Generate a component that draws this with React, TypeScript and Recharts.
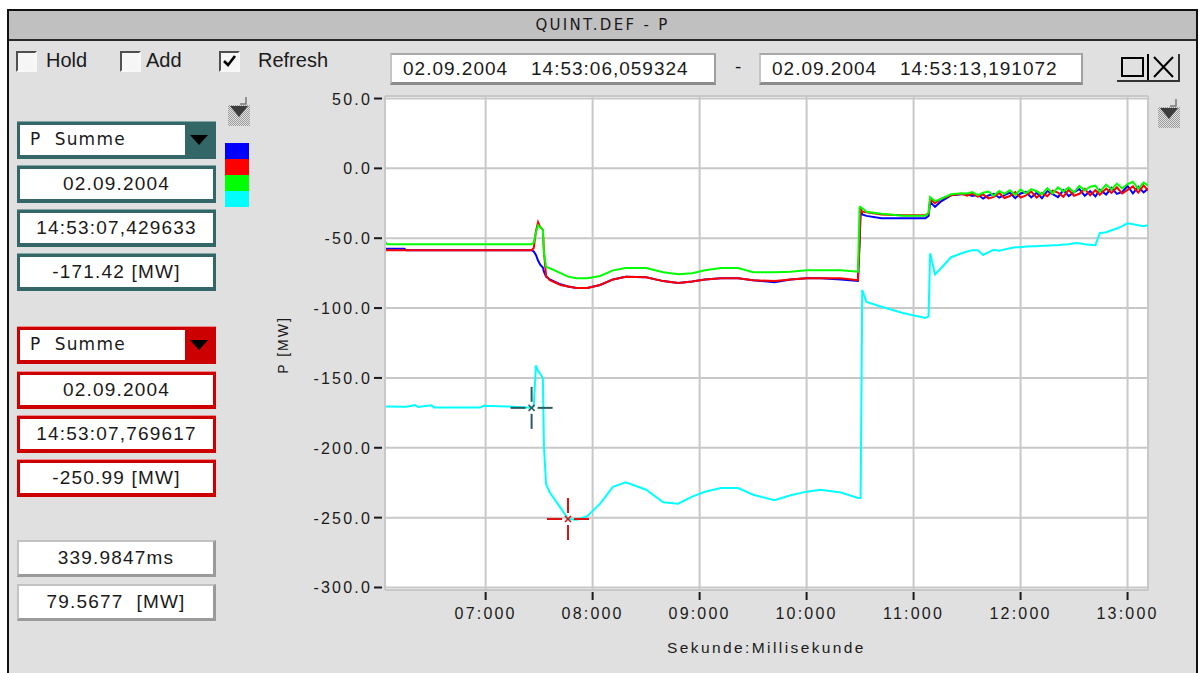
import React from 'react';
import { LineChart, Line, XAxis, YAxis, CartesianGrid, ReferenceDot } from 'recharts';

// Zeitpunkte in Sekunden nach 14:53:00
const seconds = [
  6.0594, 6.08, 6.24, 6.26, 6.34, 6.37, 6.49, 6.52, 6.95, 6.98,
  7.2, 7.43, 7.45, 7.47, 7.49, 7.51, 7.535, 7.545, 7.565, 7.6,
  7.7, 7.77, 7.85, 7.95, 8.07, 8.19, 8.31, 8.5, 8.66, 8.8,
  8.93, 9.05, 9.2, 9.36, 9.5, 9.7, 9.85, 10.0, 10.13, 10.32,
  10.48, 10.495, 10.505, 10.52, 10.56, 10.7, 10.9, 11.11, 11.14, 11.155,
  11.2, 11.25, 11.35, 11.45, 11.5, 11.55, 11.6, 11.65, 11.7, 11.75,
  11.8, 11.85, 11.9, 11.95, 12.0, 12.05, 12.1, 12.15, 12.2, 12.25,
  12.3, 12.35, 12.4, 12.45, 12.5, 12.55, 12.6, 12.65, 12.7, 12.74,
  12.8, 12.85, 12.9, 12.95, 13.0, 13.05, 13.1, 13.15, 13.191,
];

// P Summe in MW, je Kanal
const pBlue = [
  -57.5, -57.5, -57.5, -58.6, -58.6, -58.6, -58.6, -58.6, -58.6, -58.6,
  -58.6, -58.6, -59.5, -62, -66, -69, -71, -74, -77.5, -79.5,
  -83, -84.5, -85.7, -85.7, -83.5, -79.5, -77.6, -78, -80.7, -82,
  -81, -79.5, -78.6, -78.6, -80, -81.5, -79.5, -78.6, -78.6, -79.5,
  -80.5, -54, -30, -33, -34, -35.7, -35.7, -35.7, -34, -24,
  -27.6, -24, -19.3, -18.6, -18.6, -19.8, -18.9, -21.6, -19.4, -18.2,
  -21.0, -19.2, -17.4, -21.3, -18.0, -16.9, -20.8, -17.5, -21.4, -16.2,
  -18.4, -20.6, -15.6, -19.9, -17.0, -14.8, -19.6, -16.3, -20.1, -15.2,
  -18.7, -13.9, -18.3, -16.8, -12.6, -17.9, -13.2, -17.2, -14.5,
];

const pRed = [
  -58.6, -58.6, -58.6, -58.6, -58.6, -58.6, -58.6, -58.6, -58.6, -58.6,
  -58.6, -58.6, -57, -45, -38.5, -42, -44, -60, -77, -80,
  -83.5, -84.5, -85.7, -85.7, -83.5, -79.5, -77.6, -78, -80.7, -82,
  -81, -79.5, -78.6, -78.6, -80, -80.7, -79.5, -78.6, -78.6, -78.6,
  -80, -52, -29, -31, -31.5, -33, -33.6, -33.6, -32, -22,
  -25, -22, -19.3, -18.2, -19.5, -18.1, -20.3, -18.6, -21.5, -20.4,
  -17.6, -21.2, -19.8, -17.0, -20.9, -19.4, -16.6, -21.0, -17.8, -19.9,
  -15.9, -17.4, -20.3, -15.3, -19.6, -18.2, -14.7, -19.3, -15.6, -18.9,
  -14.4, -17.6, -13.5, -18.0, -15.4, -12.9, -17.4, -12.2, -15.8,
];

const pGreen = [
  -52.6, -54.3, -54.3, -54.3, -54.3, -54.3, -54.3, -54.3, -54.3, -54.3,
  -54.3, -54.3, -53, -46, -40.7, -42, -44, -60, -70.5, -71.5,
  -75, -77.5, -78.6, -78.6, -77, -73, -71.4, -71.4, -74.3, -75.7,
  -75, -72.9, -71.4, -71.4, -74.3, -74.3, -74, -72.9, -72.9, -72.9,
  -74, -28, -27.6, -28.5, -31, -32.5, -34, -34, -32, -20.5,
  -23.5, -22, -18.6, -17.9, -18.0, -17.0, -19.1, -17.4, -16.6, -19.6,
  -16.2, -18.3, -15.6, -18.9, -15.1, -17.8, -14.9, -16.4, -18.6, -14.2,
  -17.8, -13.6, -16.5, -13.8, -17.2, -12.6, -15.9, -13.1, -12.4, -16.8,
  -11.6, -15.1, -10.9, -14.4, -11.2, -9.6, -14.6, -10.1, -12.3,
];

const pCyan = [
  -170.5, -170.5, -170.6, -170.6, -169.4, -170.8, -169.6, -171.2, -171.2, -169.9,
  -170.4, -171.4, -170, -141, -145, -147, -150, -199, -226, -232,
  -243, -251, -251.5, -249, -240, -228, -224.8, -230, -239, -240,
  -235, -231.5, -228.8, -228.8, -233.6, -237.5, -234, -231.4, -230, -232,
  -236, -236, -236, -87, -95.7, -99, -103.5, -107, -106, -60.7,
  -76, -72, -63.6, -60.8, -59.5, -58.6, -58.6, -62, -60, -58.3,
  -59, -58, -57.2, -56.4, -56.4, -56, -55.7, -55.7, -55.4, -55.4,
  -55, -55, -54.5, -54.3, -53.6, -53.6, -54.3, -54.6, -55, -46.4,
  -45.7, -44.3, -43, -41.4, -39.3, -40, -40.7, -41.4, -40.7,
];

const yTicks = [50, 0, -50, -100, -150, -200, -250, -300];
const xTicks = [7, 8, 9, 10, 11, 12, 13];

const rangeStart = 6.059324;
const rangeEnd = 13.191072;

const cursor1 = { t: 7.429633, p: -171.42 };
const cursor2 = { t: 7.769617, p: -250.99 };

const data = seconds.map((t, i) => ({
  t,
  blue: pBlue[i],
  red: pRed[i],
  green: pGreen[i],
  cyan: pCyan[i],
}));

const SANS = '"Liberation Sans", Arial, sans-serif';
const VERD = '"DejaVu Sans", Verdana, sans-serif';
const TEAL = '#336666';
const RED = '#cc0000';
const INK = '#1a1a1a';

const fmtSec = (v: number) => {
  const s = Math.floor(v);
  const ms = Math.round((v - s) * 1000);
  return `${String(s).padStart(2, '0')}:${String(ms).padStart(3, '0')}`;
};

const axisText = { fontFamily: SANS, fontSize: 16, letterSpacing: 2.2, fill: INK };

function XTick({ x, y, payload }: any) {
  return (
    <g>
      <line x1={x} x2={x} y1={y + 2} y2={y + 10} stroke={INK} strokeWidth={2} />
      <text x={x} y={y + 29} textAnchor="middle" style={axisText}>
        {fmtSec(payload.value)}
      </text>
    </g>
  );
}

function YTick({ x, y, payload }: any) {
  return (
    <g>
      <text x={x - 13} y={y + 6} textAnchor="end" style={axisText}>
        {payload.value.toFixed(1)}
      </text>
      <line x1={x - 11} x2={x - 3} y1={y} y2={y} stroke={INK} strokeWidth={2} />
    </g>
  );
}

function XTitle({ viewBox }: any) {
  return (
    <text x={viewBox.x + viewBox.width / 2} y={viewBox.y + 63} textAnchor="middle" style={{ ...axisText, fontSize: 15.5, letterSpacing: 2.4 }}>
      Sekunde:Millisekunde
    </text>
  );
}

function YTitle({ viewBox }: any) {
  const x = viewBox.x + 23;
  const y = viewBox.y + viewBox.height / 2 + 2;
  return (
    <text x={x} y={y} dy={5} transform={`rotate(-90 ${x} ${y})`} textAnchor="middle" style={{ ...axisText, fontSize: 14, letterSpacing: 2 }}>
      P [MW]
    </text>
  );
}

// Fadenkreuz der Messcursor
function Crosshair({ cx, cy, color }: any) {
  const a = 6;
  const b = 21;
  const s = 3;
  return (
    <g stroke={color} strokeWidth={2}>
      <line x1={cx - b} x2={cx - a} y1={cy} y2={cy} />
      <line x1={cx + a} x2={cx + b} y1={cy} y2={cy} />
      <line x1={cx} x2={cx} y1={cy - b} y2={cy - a} />
      <line x1={cx} x2={cx} y1={cy + a} y2={cy + b} />
      <line x1={cx - s} x2={cx + s} y1={cy - s} y2={cy + s} strokeWidth={1.5} />
      <line x1={cx - s} x2={cx + s} y1={cy + s} y2={cy - s} strokeWidth={1.5} />
    </g>
  );
}

function Check({ left, textLeft, label, checked }: any) {
  return (
    <>
      <div
        style={{
          position: 'absolute', left, top: 51, width: 21, height: 21, boxSizing: 'border-box',
          borderTop: '2px solid #505050', borderLeft: '2px solid #505050',
          borderRight: '2px solid #f8f8f8', borderBottom: '2px solid #f8f8f8', background: '#f6f6f6',
        }}
      >
        {checked && (
          <svg width={17} height={17} style={{ display: 'block' }}>
            <polyline points="3,8 7,12 14,3" fill="none" stroke="#000" strokeWidth={2.6} />
          </svg>
        )}
      </div>
      <div style={{ position: 'absolute', left: textLeft, top: 47, fontSize: 20, lineHeight: '26px', color: INK }}>
        {label}
      </div>
    </>
  );
}

function DateBox({ left, width, time }: any) {
  return (
    <div
      style={{
        position: 'absolute', left, top: 53, width, height: 32, boxSizing: 'border-box', background: '#fff',
        borderTop: '2px solid #a8a8a8', borderLeft: '2px solid #c4c4c4',
        borderRight: '2px solid #a0a0a0', borderBottom: '3px solid #8c8c8c',
        fontSize: 19, letterSpacing: 1, color: INK,
      }}
    >
      <span style={{ position: 'absolute', left: 11, top: 3 }}>02.09.2004</span>
      <span style={{ position: 'absolute', left: 139, top: 3 }}>{time}</span>
    </div>
  );
}

function Field({ top, color, light, children }: any) {
  return (
    <div
      style={{
        position: 'absolute', left: 17, top, width: 199, height: 37, boxSizing: 'border-box', background: '#fff',
        borderStyle: 'solid', borderWidth: '3px 3px 4px 3px', borderColor: color,
        boxShadow: `0 -1px 0 ${light}`,
        display: 'flex', alignItems: 'center', justifyContent: 'center',
        fontSize: 19, letterSpacing: 1.2, color: INK, whiteSpace: 'pre',
      }}
    >
      {children}
    </div>
  );
}

function Dropdown({ top, color, light }: any) {
  return (
    <div
      style={{
        position: 'absolute', left: 17, top, width: 199, height: 37, boxSizing: 'border-box', background: '#fff',
        borderStyle: 'solid', borderWidth: '3px 3px 4px 3px', borderColor: color,
        boxShadow: `0 -1px 0 ${light}`,
      }}
    >
      <div style={{ position: 'absolute', left: 10, top: 4, fontFamily: VERD, fontSize: 17, letterSpacing: 1.2, whiteSpace: 'pre', color: INK }}>
        P  Summe
      </div>
      <div style={{ position: 'absolute', right: 0, top: 0, width: 28, height: 30, background: color }}>
        <svg width={28} height={30} style={{ display: 'block' }}>
          <path d="M5,10 L23,10 L14,20 Z" fill="#000" />
        </svg>
      </div>
    </div>
  );
}

function GrayField({ top, children }: any) {
  return (
    <div
      style={{
        position: 'absolute', left: 17, top, width: 199, height: 37, boxSizing: 'border-box', background: '#fff',
        borderTop: '2px solid #c2c2c2', borderLeft: '2px solid #c2c2c2',
        borderRight: '3px solid #9a9a9a', borderBottom: '3px solid #9a9a9a',
        display: 'flex', alignItems: 'center', justifyContent: 'center',
        fontSize: 19, letterSpacing: 1.2, color: INK, whiteSpace: 'pre',
      }}
    >
      {children}
    </div>
  );
}

function ScaleIcon({ left, top, id }: any) {
  return (
    <svg width={24} height={32} style={{ position: 'absolute', left, top }}>
      <defs>
        <pattern id={id} width={2} height={2} patternUnits="userSpaceOnUse">
          <rect width={1} height={1} fill="#9a9a9a" />
          <rect x={1} y={1} width={1} height={1} fill="#9a9a9a" />
        </pattern>
      </defs>
      <rect x={1} y={10} width={22} height={21} fill={`url(#${id})`} />
      <path d="M19,2 L19,9 L13,9" fill="none" stroke="#777" strokeWidth={1.5} />
      <path d="M3,11 L21,11 L12,22 Z" fill="#3c3c3c" />
    </svg>
  );
}

export default function App() {
  return (
    <div style={{ position: 'absolute', left: 0, top: 0, width: 1203, height: 673, background: '#fff', overflow: 'hidden', fontFamily: SANS }}>
      {/* Fenster */}
      <div style={{ position: 'absolute', left: 7, top: 9, width: 1191, height: 700, boxSizing: 'border-box', border: '2px solid #111', background: '#e0e0e0' }} />
      <div
        style={{
          position: 'absolute', left: 9, top: 11, width: 1187, height: 28, background: '#c0c0c0', borderBottom: '2px solid #2a2a2a',
          display: 'flex', alignItems: 'center', justifyContent: 'center',
          fontFamily: VERD, fontSize: 15, letterSpacing: 2.3, color: INK,
        }}
      >
        QUINT.DEF - P
      </div>

      <Check left={16} textLeft={46} label="Hold" />
      <Check left={120} textLeft={146} label="Add" />
      <Check left={219} textLeft={258} label="Refresh" checked />

      <DateBox left={390} width={326} time="14:53:06,059324" />
      <div style={{ position: 'absolute', left: 735, top: 56, fontSize: 19, color: INK }}>-</div>
      <DateBox left={759} width={324} time="14:53:13,191072" />

      <svg width={64} height={32} style={{ position: 'absolute', left: 1117, top: 52 }}>
        <rect x={5} y={6} width={21} height={18} fill="none" stroke="#000" strokeWidth={2} />
        <line x1={31} x2={31} y1={2} y2={28} stroke="#000" strokeWidth={2} />
        <line x1={37} x2={56} y1={5} y2={25} stroke="#000" strokeWidth={2} />
        <line x1={56} x2={37} y1={5} y2={25} stroke="#000" strokeWidth={2} />
        <line x1={0} x2={62} y1={29} y2={29} stroke="#333" strokeWidth={2} />
        <line x1={62} x2={62} y1={2} y2={30} stroke="#333" strokeWidth={2} />
      </svg>

      {/* Cursor 1 */}
      <ScaleIcon left={227} top={95} id="dithL" />
      <Dropdown top={122} color={TEAL} light="#7fa5a5" />
      <Field top={166} color={TEAL} light="#7fa5a5">02.09.2004</Field>
      <Field top={210} color={TEAL} light="#7fa5a5">14:53:07,429633</Field>
      <Field top={254} color={TEAL} light="#7fa5a5">-171.42 [MW]</Field>
      <div style={{ position: 'absolute', left: 225, top: 143, width: 24, height: 16, background: '#0000ff' }} />
      <div style={{ position: 'absolute', left: 225, top: 159, width: 24, height: 16, background: '#ff0000' }} />
      <div style={{ position: 'absolute', left: 225, top: 175, width: 24, height: 16, background: '#00ff00' }} />
      <div style={{ position: 'absolute', left: 225, top: 191, width: 24, height: 16, background: '#00ffff' }} />

      {/* Cursor 2 */}
      <Dropdown top={327} color={RED} light="#f08a8a" />
      <Field top={372} color={RED} light="#f08a8a">02.09.2004</Field>
      <Field top={416} color={RED} light="#f08a8a">14:53:07,769617</Field>
      <Field top={460} color={RED} light="#f08a8a">-250.99 [MW]</Field>

      {/* Differenzen */}
      <GrayField top={540}>339.9847ms</GrayField>
      <GrayField top={584}>79.5677  [MW]</GrayField>

      <ScaleIcon left={1157} top={97} id="dithR" />

      <div style={{ position: 'absolute', left: 260, top: 88 }}>
        <LineChart width={910} height={580} data={data} margin={{ top: 8, right: 22, bottom: 0, left: 0 }}>
          <CartesianGrid stroke="#c8c8c8" strokeWidth={2} fill="#fff" fillOpacity={1} />
          <XAxis
            dataKey="t"
            type="number"
            domain={[rangeStart, rangeEnd]}
            ticks={xTicks}
            interval={0}
            allowDataOverflow
            height={78}
            tickSize={0}
            tickMargin={0}
            tickLine={false}
            axisLine={false}
            tick={(p: any) => <XTick {...p} />}
            label={{ content: (p: any) => <XTitle {...p} /> }}
          />
          <YAxis
            type="number"
            domain={[-301.8, 51.8]}
            ticks={yTicks}
            interval={0}
            allowDataOverflow
            width={125}
            tickSize={0}
            tickMargin={0}
            tickLine={false}
            axisLine={{ stroke: '#c8c8c8', strokeWidth: 2 }}
            tick={(p: any) => <YTick {...p} />}
            label={{ content: (p: any) => <YTitle {...p} /> }}
          />
          <Line type="linear" dataKey="cyan" stroke="#00ffff" strokeWidth={2} dot={false} isAnimationActive={false} />
          <Line type="linear" dataKey="blue" stroke="#0000ff" strokeWidth={2} dot={false} isAnimationActive={false} />
          <Line type="linear" dataKey="red" stroke="#ff0000" strokeWidth={2} dot={false} isAnimationActive={false} />
          <Line type="linear" dataKey="green" stroke="#00ff00" strokeWidth={2} dot={false} isAnimationActive={false} />
          <ReferenceDot x={cursor1.t} y={cursor1.p} shape={(p: any) => <Crosshair cx={p.cx} cy={p.cy} color="#2d5c5c" />} />
          <ReferenceDot x={cursor2.t} y={cursor2.p} shape={(p: any) => <Crosshair cx={p.cx} cy={p.cy} color="#dd1111" />} />
        </LineChart>
      </div>
    </div>
  );
}
